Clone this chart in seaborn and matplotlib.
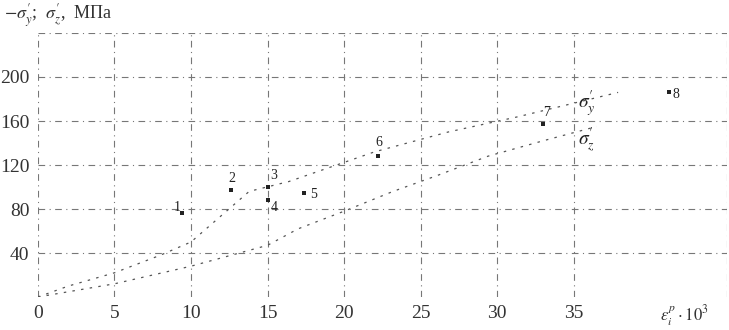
import numpy as np
import pandas as pd
import matplotlib
matplotlib.use("Agg")
import matplotlib.pyplot as plt
import seaborn as sns

# Curves (strain * 10^3, stress MPa)
sy_eps = [0, 2, 5, 8, 10, 13.8, 16.4, 22, 26.8, 31.4, 37.9]
sy_val = [0, 10, 22, 38, 50, 96, 105, 132, 150, 164, 186]
sz_eps = [0, 5, 10, 15, 17, 20, 23.2, 26, 29.4, 33, 36.5]
sz_val = [0, 12, 28, 47, 62, 78, 96, 110, 128, 142, 155]

# Numbered experimental points
pt_eps = [9.4, 12.6, 15.0, 15.0, 17.4, 22.2, 33.0, 41.2]
pt_val = [76, 97, 100, 88, 95, 128, 157, 186]
pt_lbl = ["1", "2", "3", "4", "5", "6", "7", "8"]

x_ticks = [0, 5, 10, 15, 20, 25, 30, 35]
y_ticks = [40, 80, 120, 160, 200]

sns.set_theme(style="white")
plt.rcParams["font.family"] = ["Liberation Serif", "DejaVu Serif"]
plt.rcParams["mathtext.fontset"] = "stix"

fig = plt.figure(figsize=(7.29, 3.30), dpi=100)
ax = fig.add_axes([0.052, 0.10, 0.945, 0.80])

df_y = pd.DataFrame({"eps": sy_eps, "s": sy_val})
df_z = pd.DataFrame({"eps": sz_eps, "s": sz_val})
sns.lineplot(data=df_y, x="eps", y="s", ax=ax, color="#555555", lw=0.9,
             linestyle=(0, (2, 5)), sort=False)
sns.lineplot(data=df_z, x="eps", y="s", ax=ax, color="#555555", lw=0.9,
             linestyle=(0, (2, 5)), sort=False)

df_p = pd.DataFrame({"eps": pt_eps, "s": pt_val})
sns.scatterplot(data=df_p, x="eps", y="s", ax=ax, color="#222222", s=8,
                marker="s", linewidth=0)
offs = [(-6, 2), (-2, 6), (2, 6), (2, -8), (4, -4), (-2, 7), (0, 6), (3, -4)]
for x, y, t, (dx, dy) in zip(pt_eps, pt_val, pt_lbl, offs):
    ax.annotate(t, (x, y), xytext=(dx, dy), textcoords="offset points",
                fontsize=10, color="#222222")

ax.text(35.3, 172, r"$\sigma_y'$", fontsize=14, color="#222222")
ax.text(35.3, 138, r"$\sigma_z'$", fontsize=14, color="#222222")

ax.set_xlim(0, 45)
ax.set_ylim(0, 240)
ax.set_xticks(x_ticks)
ax.set_yticks(y_ticks)
ax.set_xticklabels([str(v) for v in x_ticks], fontsize=14, color="#333333")
ax.set_yticklabels([str(v) for v in y_ticks], fontsize=14, color="#333333")
ax.tick_params(length=0, pad=6)
for v in x_ticks + [45]:
    ax.axvline(v, color="#777777", lw=0.8, ls=(0, (6, 4, 1, 4)), zorder=0)
for v in y_ticks + [240]:
    ax.axhline(v, color="#777777", lw=0.8, ls=(0, (6, 4, 1, 4)), zorder=0)
for s in ax.spines.values():
    s.set_visible(False)
ax.set_xlabel("")
ax.set_ylabel("")

fig.text(0.005, 0.955, r"$-\sigma_y'$;  $\sigma_z'$,  МПа", fontsize=13,
         color="#333333", va="center")
fig.text(0.905, 0.045, r"$\varepsilon_i^p\cdot10^3$", fontsize=12,
         color="#333333", va="center")

fig.savefig("out.png", dpi=100, facecolor="white")
